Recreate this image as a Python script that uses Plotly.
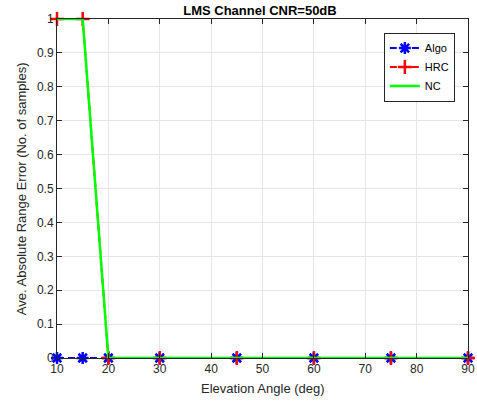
import plotly.graph_objects as go

elev = [10, 15, 20, 30, 45, 60, 75, 90]
algo = [0, 0, 0, 0, 0, 0, 0, 0]
hrc = [1, 1, 0, 0, 0, 0, 0, 0]
nc = [1, 1, 0, 0, 0, 0, 0, 0]
x_ticks = [10, 20, 30, 40, 50, 60, 70, 80, 90]
y_ticks = [0, 0.1, 0.2, 0.3, 0.4, 0.5, 0.6, 0.7, 0.8, 0.9, 1]
y_labels = ["0", "0.1", "0.2", "0.3", "0.4", "0.5", "0.6", "0.7", "0.8", "0.9", "1"]

FONT = "Liberation Sans, Arial"

fig = go.Figure()
fig.add_trace(go.Scatter(x=elev, y=algo, name="Algo", mode="lines+markers",
                         line=dict(color="#0000ff", width=2, dash="7px,4px"),
                         marker=dict(symbol="asterisk-open", size=10,
                                     line=dict(color="#0000ff", width=2.5))))
fig.add_trace(go.Scatter(x=elev, y=hrc, name="HRC", mode="lines+markers",
                         line=dict(color="#ff0000", width=2, dash="7px,4px"),
                         marker=dict(symbol="cross-thin-open", size=10,
                                     line=dict(color="#ff0000", width=2.5))))
fig.add_trace(go.Scatter(x=elev, y=nc, name="NC", mode="lines",
                         line=dict(color="#00ff00", width=2.5)))

axis_common = dict(showline=True, linecolor="#262626", linewidth=1, mirror="ticks",
                   ticks="inside", ticklen=5, tickcolor="#262626", automargin=False,
                   showgrid=True, gridcolor="#e6e6e6", gridwidth=1, zeroline=False,
                   tickfont=dict(family=FONT, size=12, color="#262626"))

fig.update_layout(
    width=477, height=405,
    margin=dict(l=57, r=9, t=19, b=47, autoexpand=False),
    paper_bgcolor="white", plot_bgcolor="white",
    title=dict(text="<b>LMS Channel CNR=50dB</b>", x=0.545, xanchor="center", y=0.975, yanchor="middle",
               font=dict(family=FONT, size=13, color="black")),
    xaxis=dict(range=[10, 90], tickvals=x_ticks, **axis_common),
    yaxis=dict(range=[0, 1], tickvals=y_ticks, ticktext=y_labels, **axis_common),
    legend=dict(x=0.968, y=0.96, xanchor="right", yanchor="top", bgcolor="white",
                bordercolor="#262626", borderwidth=1,
                font=dict(family=FONT, size=11, color="black"),
                tracegroupgap=0, itemwidth=30),
    showlegend=True,
    annotations=[
        dict(text="Elevation Angle (deg)", xref="paper", yref="paper", x=0.5, y=-0.09,
             xanchor="center", yanchor="middle", showarrow=False,
             font=dict(family=FONT, size=13, color="#262626")),
        dict(text="Ave. Absolute Range Error (No. of samples)", xref="paper", yref="paper",
             x=-0.086, y=0.5, xanchor="center", yanchor="middle", textangle=-90, showarrow=False,
             font=dict(family=FONT, size=13, color="#262626")),
    ],
)
fig.update_traces(cliponaxis=False)
fig.write_html("out.html", config={"displayModeBar": False},
               post_script="document.body.style.margin='0';")
